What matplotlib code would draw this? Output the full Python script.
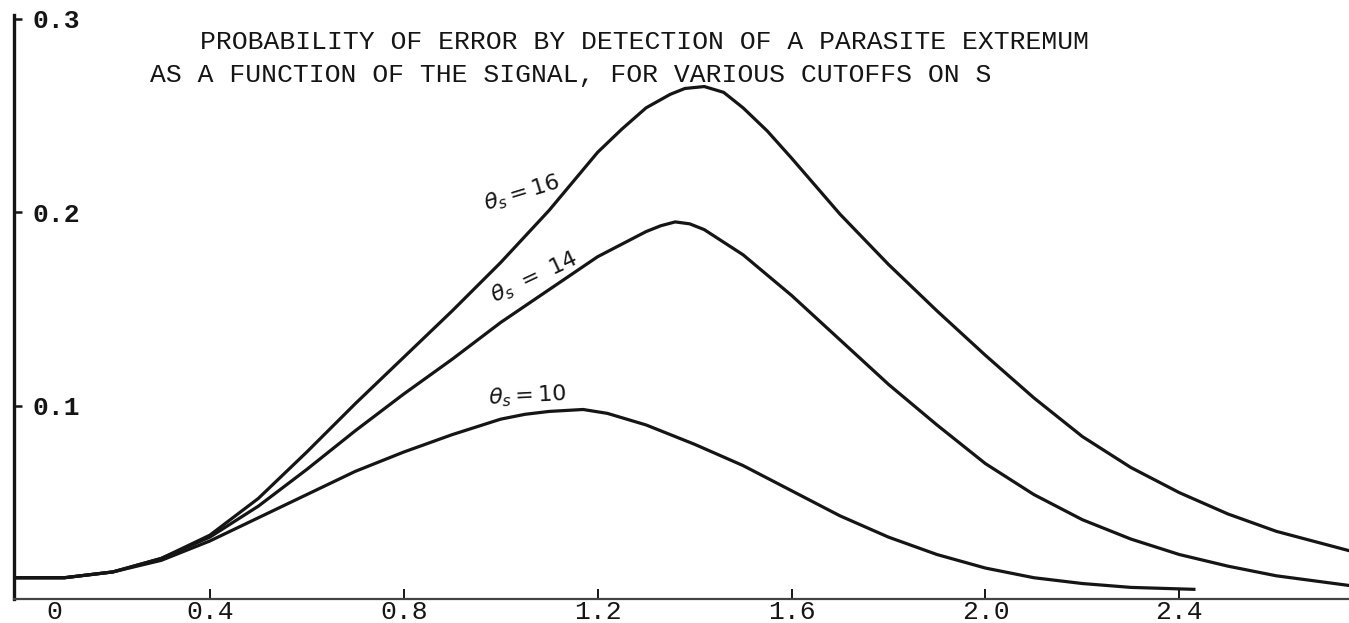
import matplotlib
matplotlib.use('Agg')
import matplotlib.pyplot as plt

# signal values (x) and error probability (y)
s16 = [0.0, 0.1, 0.2, 0.3, 0.4, 0.5, 0.6, 0.7, 0.8, 0.9, 1.0, 1.1, 1.2, 1.25, 1.3,
       1.35, 1.38, 1.42, 1.46, 1.5, 1.55, 1.6, 1.7, 1.8, 1.9, 2.0, 2.1, 2.2, 2.3,
       2.4, 2.5, 2.6, 2.75]
p16 = [0.011, 0.011, 0.014, 0.021, 0.033, 0.052, 0.076, 0.101, 0.125, 0.149, 0.174,
       0.201, 0.231, 0.243, 0.254, 0.261, 0.264, 0.265, 0.262, 0.254, 0.242, 0.228,
       0.199, 0.173, 0.149, 0.126, 0.104, 0.084, 0.068, 0.055, 0.044, 0.035, 0.025]

s14 = [0.0, 0.1, 0.2, 0.3, 0.4, 0.5, 0.6, 0.7, 0.8, 0.9, 1.0, 1.1, 1.2, 1.3, 1.33,
       1.36, 1.39, 1.42, 1.5, 1.6, 1.7, 1.8, 1.9, 2.0, 2.1, 2.2, 2.3, 2.4, 2.5,
       2.6, 2.75]
p14 = [0.011, 0.011, 0.014, 0.021, 0.032, 0.048, 0.067, 0.087, 0.106, 0.124, 0.143,
       0.160, 0.177, 0.190, 0.193, 0.195, 0.194, 0.191, 0.178, 0.157, 0.134, 0.111,
       0.090, 0.070, 0.054, 0.041, 0.031, 0.023, 0.017, 0.012, 0.007]

s10 = [0.0, 0.1, 0.2, 0.3, 0.4, 0.5, 0.6, 0.7, 0.8, 0.9, 1.0, 1.05, 1.1, 1.17, 1.22,
       1.3, 1.4, 1.5, 1.6, 1.7, 1.8, 1.9, 2.0, 2.1, 2.2, 2.3, 2.43]
p10 = [0.011, 0.011, 0.014, 0.020, 0.030, 0.042, 0.054, 0.066, 0.076, 0.085, 0.093,
       0.0955, 0.097, 0.098, 0.096, 0.090, 0.080, 0.069, 0.056, 0.043, 0.032, 0.023,
       0.016, 0.011, 0.008, 0.006, 0.005]

xtick_pos = [0.08, 0.4, 0.8, 1.2, 1.6, 2.0, 2.4]
xtick_lab = ['0', '0.4', '0.8', '1.2', '1.6', '2.0', '2.4']
ytick_pos = [0.1, 0.2, 0.3]
ytick_lab = ['0.1', '0.2', '0.3']

title1 = 'PROBABILITY OF ERROR BY DETECTION OF A PARASITE EXTREMUM'
title2 = 'AS A FUNCTION OF THE SIGNAL, FOR VARIOUS CUTOFFS ON S'

mono = 'Liberation Mono'
ink = '#151515'

fig = plt.figure(figsize=(13.49, 6.23), dpi=100)
ax = fig.add_axes([14/1349, 24/623, 1 - 14/1349, 584/623])

ax.plot(s16, p16, color=ink, lw=2.3, solid_joinstyle='round')
ax.plot(s14, p14, color=ink, lw=2.3, solid_joinstyle='round')
ax.plot(s10, p10, color=ink, lw=2.3, solid_joinstyle='round')

ax.set_xlim(-0.004, 2.75)
ax.set_ylim(0, 0.302)

for side in ['top', 'right']:
    ax.spines[side].set_visible(False)
ax.spines['left'].set_linewidth(2.4)
ax.spines['left'].set_color(ink)
ax.spines['bottom'].set_linewidth(1.6)
ax.spines['bottom'].set_color('#444444')

ax.set_xticks(xtick_pos)
ax.set_xticklabels(xtick_lab, fontfamily=mono, fontsize=19)
ax.xaxis.get_major_ticks()[0].tick1line.set_visible(False)
ax.tick_params(axis='x', direction='in', length=7, width=1.4, pad=1, colors=ink)

ax.set_yticks(ytick_pos)
ax.set_yticklabels(ytick_lab, fontfamily=mono, fontsize=19, fontweight='bold')
ax.tick_params(axis='y', direction='in', length=6, width=1.8, pad=-13, colors=ink)
for lbl in ax.get_yticklabels():
    lbl.set_horizontalalignment('left')

# curve labels, handwritten on the original
ax.text(1.045, 0.210, r'$\theta_s = 16$', fontsize=16, rotation=17,
        ha='center', va='center', color=ink)
ax.text(1.07, 0.166, r'$\theta_s\ =\ 14$', fontsize=16, rotation=25,
        ha='center', va='center', color=ink)
ax.text(1.056, 0.105, r'$\theta_s = 10$', fontsize=16, rotation=3,
        ha='center', va='center', color=ink)

fig.text(200/1349, 1 - 42/623, title1, fontfamily=mono, fontsize=19,
         ha='left', va='center', color=ink)
fig.text(150/1349, 1 - 75/623, title2, fontfamily=mono, fontsize=19,
         ha='left', va='center', color=ink)

fig.savefig('out.png', dpi=100)
